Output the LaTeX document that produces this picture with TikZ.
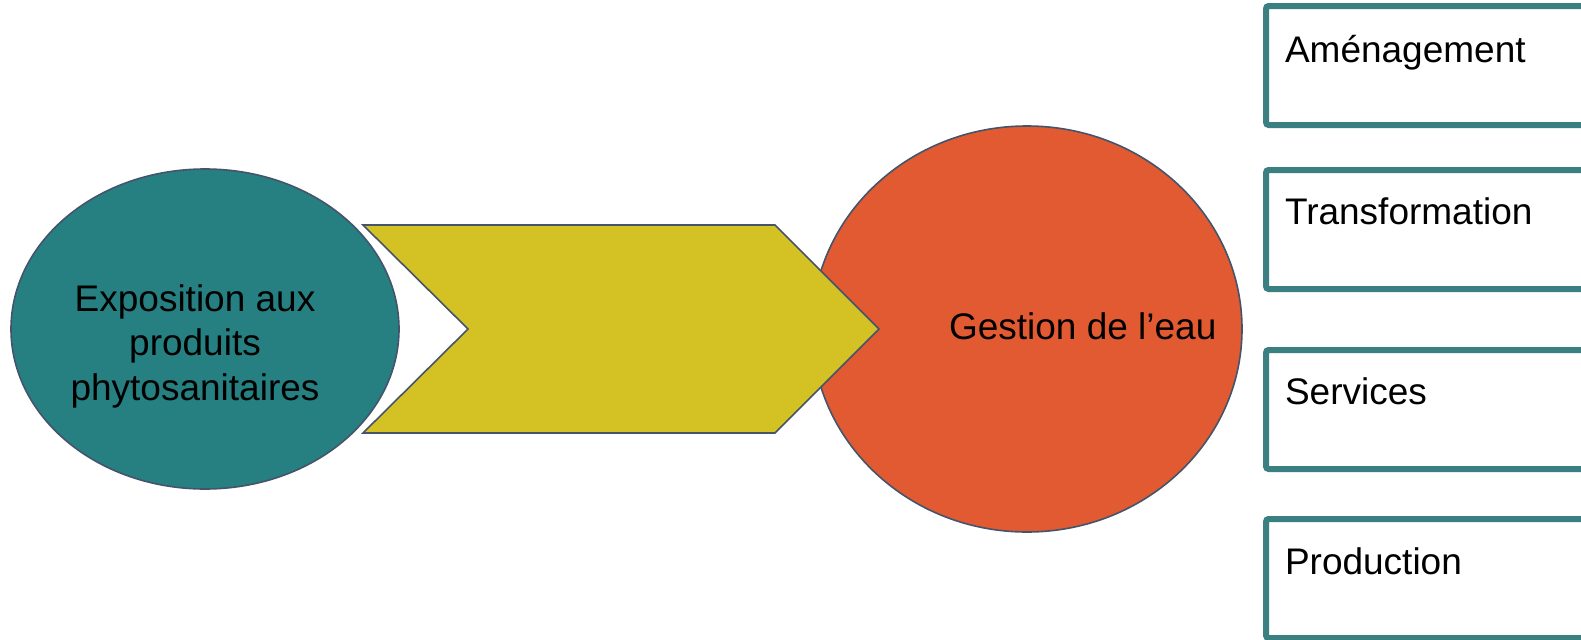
\documentclass[tikz,border=0pt]{standalone}
\usepackage{fontspec}
\setmainfont{Liberation Sans}
\usetikzlibrary{shapes.geometric}
\definecolor{tealfill}{RGB}{38,128,129}
\definecolor{outl}{RGB}{68,84,106}
\definecolor{chev}{RGB}{212,193,36}
\definecolor{orangefill}{RGB}{225,90,50}
\definecolor{boxline}{RGB}{58,128,130}
\begin{document}
\begin{tikzpicture}[x=0.75pt,y=-0.75pt,
  shapeline/.style={draw=outl,line width=1.2pt},
  lbl/.style={font=\fontsize{27.75}{33.4}\selectfont, inner sep=0pt, outer sep=0pt},
  tagbox/.style={draw=boxline, line width=4.5pt, fill=white, rounded corners=2pt,
    minimum width=300pt, minimum height=89.25pt, anchor=north west, inner sep=0pt, outer sep=0pt}]
\clip (0,0) rectangle (1581,639);
\fill[white] (0,0) rectangle (1581,639);
% left ellipse
\node[ellipse, shapeline, fill=tealfill, minimum width=291pt, minimum height=240pt,
  inner sep=0pt, outer sep=0pt] (expo) at (205,329) {};
\node[lbl, align=center] (expotext) at (195,346) {Exposition aux\\produits\\phytosanitaires};
% right circle
\node[ellipse, shapeline, fill=orangefill, minimum width=322.5pt, minimum height=304.5pt,
  inner sep=0pt, outer sep=0pt] (gest) at (1027,329) {};
% chevron
\coordinate (c1) at (363,225);
\coordinate (c2) at (775,225);
\coordinate (c3) at (879,329);
\coordinate (c4) at (775,433);
\coordinate (c5) at (363,433);
\coordinate (c6) at (468,329);
\draw[shapeline, fill=chev, line join=miter] (c1) -- (c2) -- (c3) -- (c4) -- (c5) -- (c6) -- cycle;
\node[lbl, anchor=base west] (gesttext) at (949,339) {Gestion de l’eau};
% right boxes
\node[tagbox] (b1) at (1266,6) {};
\node[tagbox] (b2) at (1266,170) {};
\node[tagbox] (b3) at (1266,350) {};
\node[tagbox] (b4) at (1266,519) {};
\node[lbl, anchor=base west] (t1) at (1285,62) {Aménagement};
\node[lbl, anchor=base west] (t2) at (1285,224) {Transformation};
\node[lbl, anchor=base west] (t3) at (1285,404) {Services};
\node[lbl, anchor=base west] (t4) at (1285,574) {Production};
\end{tikzpicture}
\end{document}
